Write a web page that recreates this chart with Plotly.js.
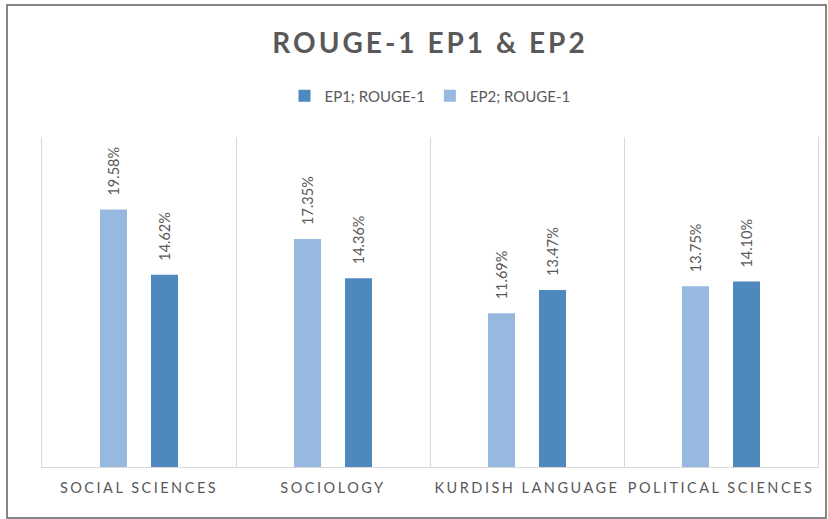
<!DOCTYPE html>
<html>
<head>
<meta charset="utf-8">
<script src="https://cdn.plot.ly/plotly-3.0.1.min.js"></script>
<style>
html,body{margin:0;padding:0;background:#fff;}
#chart{width:828px;height:519px;}
</style>
</head>
<body>
<div id="chart"></div>
<script>
const categories = ["SOCIAL SCIENCES", "SOCIOLOGY", "KURDISH LANGUAGE", "POLITICAL SCIENCES"];
const ep1Values = [14.62, 14.36, 13.47, 14.10];
const ep2Values = [19.58, 17.35, 11.69, 13.75];
const seriesNames = ["EP1; ROUGE-1", "EP2; ROUGE-1"];
const chartTitle = "ROUGE-1 EP1 & EP2";

const FONT = "Lato, 'Open Sans', sans-serif";
const GRAY = "#595959";
const LIGHT = "#97b9e0";
const DARK = "#4f88bd";

const traces = [
  {
    type: "bar", name: seriesNames[1], x: categories, y: ep2Values,
    marker: {color: LIGHT}, hoverinfo: "skip"
  },
  {
    type: "bar", name: seriesNames[0], x: categories, y: ep1Values,
    marker: {color: DARK}, hoverinfo: "skip"
  }
];

function labelAnns(values, xshift) {
  return values.map((v, i) => ({
    x: categories[i], y: v, xref: "x", yref: "y",
    text: v.toFixed(2) + "%", showarrow: false,
    textangle: -90, xanchor: "center", yanchor: "bottom",
    xshift: xshift, yshift: 12,
    font: {family: FONT, size: 14.5, color: GRAY}
  }));
}

const layout = {
  width: 828, height: 519,
  margin: {l: 42, r: 10, t: 137, b: 52},
  paper_bgcolor: "#fff", plot_bgcolor: "#fff",
  font: {family: FONT, color: GRAY},
  title: {
    text: "<b>" + chartTitle + "</b>",
    font: {family: FONT, size: 28, color: GRAY},
    x: 0.5, xref: "paper", xanchor: "center",
    y: 0.916, yref: "container", yanchor: "middle"
  },
  showlegend: true,
  legend: {
    orientation: "h", traceorder: "reversed",
    x: 0.5, xanchor: "center", y: 1.124, yanchor: "middle",
    font: {family: FONT, size: 15, color: GRAY},
    itemwidth: 30
  },
  barmode: "group",
  bargap: 0.474,
  bargroupgap: 0.47,
  xaxis: {
    type: "category",
    tickson: "boundaries",
    showgrid: true, gridcolor: "#d9d9d9", gridwidth: 1,
    showline: true, linecolor: "#d9d9d9", linewidth: 1,
    ticks: "", ticklabelstandoff: 8,
    tickfont: {family: FONT, size: 14.5, color: GRAY},
    fixedrange: true
  },
  yaxis: {
    range: [0, 25.1],
    showgrid: false, zeroline: false,
    showline: true, mirror: true, linecolor: "#d9d9d9", linewidth: 1,
    showticklabels: false, ticks: "",
    fixedrange: true
  },
  annotations: labelAnns(ep2Values, -25.5).concat(labelAnns(ep1Values, 25.5)),
  shapes: [
    {type: "rect", xref: "paper", yref: "paper",
     x0: -0.0451, x1: 1.0103, y0: -0.1545, y1: 1.4,
     line: {color: "#5f5f5f", width: 1.5}, fillcolor: "rgba(0,0,0,0)", layer: "below"}
  ]
};

Plotly.newPlot("chart", traces, layout, {displayModeBar: false, staticPlot: true}).then(() => {
  document.querySelectorAll("#chart .gtitle").forEach(e => e.style.letterSpacing = "3px");
  document.querySelectorAll("#chart .xtick text").forEach(e => e.style.letterSpacing = "2.5px");
});
</script>
</body>
</html>
